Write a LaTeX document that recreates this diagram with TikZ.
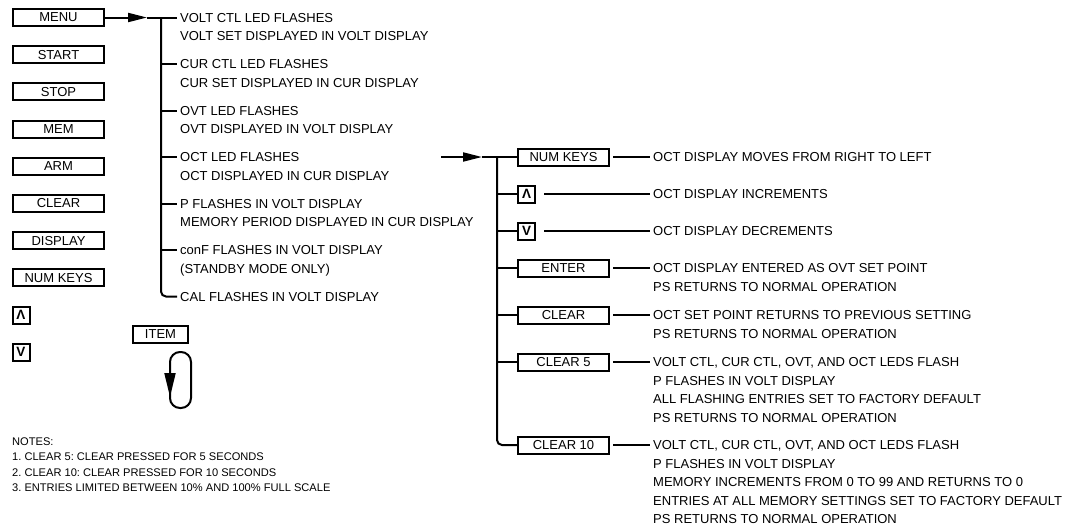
\documentclass[tikz,border=0pt]{standalone}
\usepackage{fontspec}
\setmainfont{Liberation Sans}
\usetikzlibrary{arrows.meta}

\begin{document}
\frenchspacing
\begin{tikzpicture}[x=1pt,y=-1pt]
	\tikzstyle {keybox} = [draw, line width=2pt, minimum width=91pt, minimum height=17pt, inner sep=0pt, font=\fontsize{13}{15}\selectfont]
	\tikzstyle {smallkey} = [draw, line width=2pt, minimum size=17pt, inner sep=0pt, font=\fontsize{13.5}{15}\selectfont\bfseries]
	\tikzstyle {msg} = [anchor=north west, align=left, inner xsep=3pt, inner ysep=0pt, font=\fontsize{13}{18.5}\selectfont]
	\tikzstyle {note} = [anchor=north west, align=left, inner xsep=3pt, inner ysep=0pt, font=\fontsize{11.1}{15.5}\selectfont]
	\tikzstyle {tree} = [line width=2pt]
	\tikzstyle {lead} = [line width=1.3pt]
	\tikzstyle {feed} = [-{Triangle[length=19pt,width=9pt]}, line width=2pt]

	\useasboundingbox (0,0) rectangle (1069,531);

	% front panel keys
	\node[keybox] (menu) at (58.5,17.5) {MENU};
	\node[keybox] (start) at (58.5,54.7) {START};
	\node[keybox] (stop) at (58.5,91.9) {STOP};
	\node[keybox] (mem) at (58.5,129.1) {MEM};
	\node[keybox] (arm) at (58.5,166.3) {ARM};
	\node[keybox] (clear) at (58.5,203.5) {CLEAR};
	\node[keybox] (display) at (58.5,240.7) {DISPLAY};
	\node[keybox] (numkeys) at (58.5,277.9) {NUM KEYS};
	\node[smallkey] (up) at (21,315.1) {Λ};
	\node[smallkey] (down) at (21,352.3) {V};

	% item key and loop
	\node[keybox, minimum width=55pt] (item) at (160.5,334) {ITEM};
	\draw[tree, rounded corners=10pt] (170,352) rectangle (191,408);
	\draw[tree, -{Triangle[length=24pt,width=11pt]}] (170,372) -- (170,397);

	% menu tree
	\coordinate (ma) at (147,17.5);
	\coordinate (l1) at (161,17.5);
	\coordinate (l2) at (161,64);
	\coordinate (l3) at (161,110.5);
	\coordinate (l4) at (161,157);
	\coordinate (l5) at (161,203.5);
	\coordinate (l6) at (161,250);
	\coordinate (l7) at (161,296.5);

	\node[msg] (v1) at (177,12.8) {VOLT CTL LED FLASHES\\VOLT SET DISPLAYED IN VOLT DISPLAY};
	\node[msg] (v2) at (177,59.3) {CUR CTL LED FLASHES\\CUR SET DISPLAYED IN CUR DISPLAY};
	\node[msg] (v3) at (177,105.8) {OVT LED FLASHES\\OVT DISPLAYED IN VOLT DISPLAY};
	\node[msg] (v4) at (177,152.3) {OCT LED FLASHES\\OCT DISPLAYED IN CUR DISPLAY};
	\node[msg] (v5) at (177,198.8) {P FLASHES IN VOLT DISPLAY\\MEMORY PERIOD DISPLAYED IN CUR DISPLAY};
	\node[msg] (v6) at (177,245.3) {conF FLASHES IN VOLT DISPLAY\\(STANDBY MODE ONLY)};
	\node[msg] (v7) at (177,291.8) {CAL FLASHES IN VOLT DISPLAY};

	\draw[feed] (menu.east) -- (ma);
	\draw[tree] (ma) -- (l1);
	\draw[tree, rounded corners=5pt] (l1) -- (l7) -- (l7 -| v7.west);
	\foreach \i in {1,...,6}
		\draw[tree] (l\i) -- (l\i -| v\i.west);

	% oct tree
	\coordinate (oa) at (441,157);
	\coordinate (ob) at (482,157);
	\coordinate (r1) at (497,157);
	\coordinate (r2) at (497,194);
	\coordinate (r3) at (497,231);
	\coordinate (r4) at (497,268);
	\coordinate (r5) at (497,315);
	\coordinate (r6) at (497,362);
	\coordinate (r7) at (497,445);

	\node[keybox] (k1) at (563.5,157) {NUM KEYS};
	\node[smallkey] (k2) at (526.5,194) {Λ};
	\node[smallkey] (k3) at (526.5,231) {V};
	\node[keybox] (k4) at (563.5,268) {ENTER};
	\node[keybox] (k5) at (563.5,315) {CLEAR};
	\node[keybox] (k6) at (563.5,362) {CLEAR 5};
	\node[keybox] (k7) at (563.5,445) {CLEAR 10};

	\node[msg] (m1) at (650,152.3) {OCT DISPLAY MOVES FROM RIGHT TO LEFT};
	\node[msg] (m2) at (650,189.3) {OCT DISPLAY INCREMENTS};
	\node[msg] (m3) at (650,226.3) {OCT DISPLAY DECREMENTS};
	\node[msg] (m4) at (650,263.3) {OCT DISPLAY ENTERED AS OVT SET POINT\\PS RETURNS TO NORMAL OPERATION};
	\node[msg] (m5) at (650,310.3) {OCT SET POINT RETURNS TO PREVIOUS SETTING\\PS RETURNS TO NORMAL OPERATION};
	\node[msg] (m6) at (650,357.3) {VOLT CTL, CUR CTL, OVT, AND OCT LEDS FLASH\\P FLASHES IN VOLT DISPLAY\\ALL FLASHING ENTRIES SET TO FACTORY DEFAULT\\PS RETURNS TO NORMAL OPERATION};
	\node[msg] (m7) at (650,440.3) {VOLT CTL, CUR CTL, OVT, AND OCT LEDS FLASH\\P FLASHES IN VOLT DISPLAY\\MEMORY INCREMENTS FROM 0 TO 99 AND RETURNS TO 0\\ENTRIES AT ALL MEMORY SETTINGS SET TO FACTORY DEFAULT\\PS RETURNS TO NORMAL OPERATION};

	\draw[feed] (oa) -- (ob);
	\draw[tree] (ob) -- (r1);
	\draw[tree, rounded corners=5pt] (r1) -- (r7) -- (k7.west);
	\foreach \i in {1,...,6}
		\draw[tree] (r\i) -- (k\i.west);
	\foreach \i in {1,4,5,6,7}
		\draw[lead] ([xshift=3pt]k\i.east) -- (k\i -| m\i.west);
	\foreach \i in {2,3}
		\draw[lead] ([xshift=8pt]k\i.east) -- (k\i -| m\i.west);

	% notes
	\node[note] (notes) at (9,437.2) {NOTES:\\1. CLEAR 5: CLEAR PRESSED FOR 5 SECONDS\\2. CLEAR 10: CLEAR PRESSED FOR 10 SECONDS\\3. ENTRIES LIMITED BETWEEN 10\% AND 100\% FULL SCALE};
\end{tikzpicture}
\end{document}
